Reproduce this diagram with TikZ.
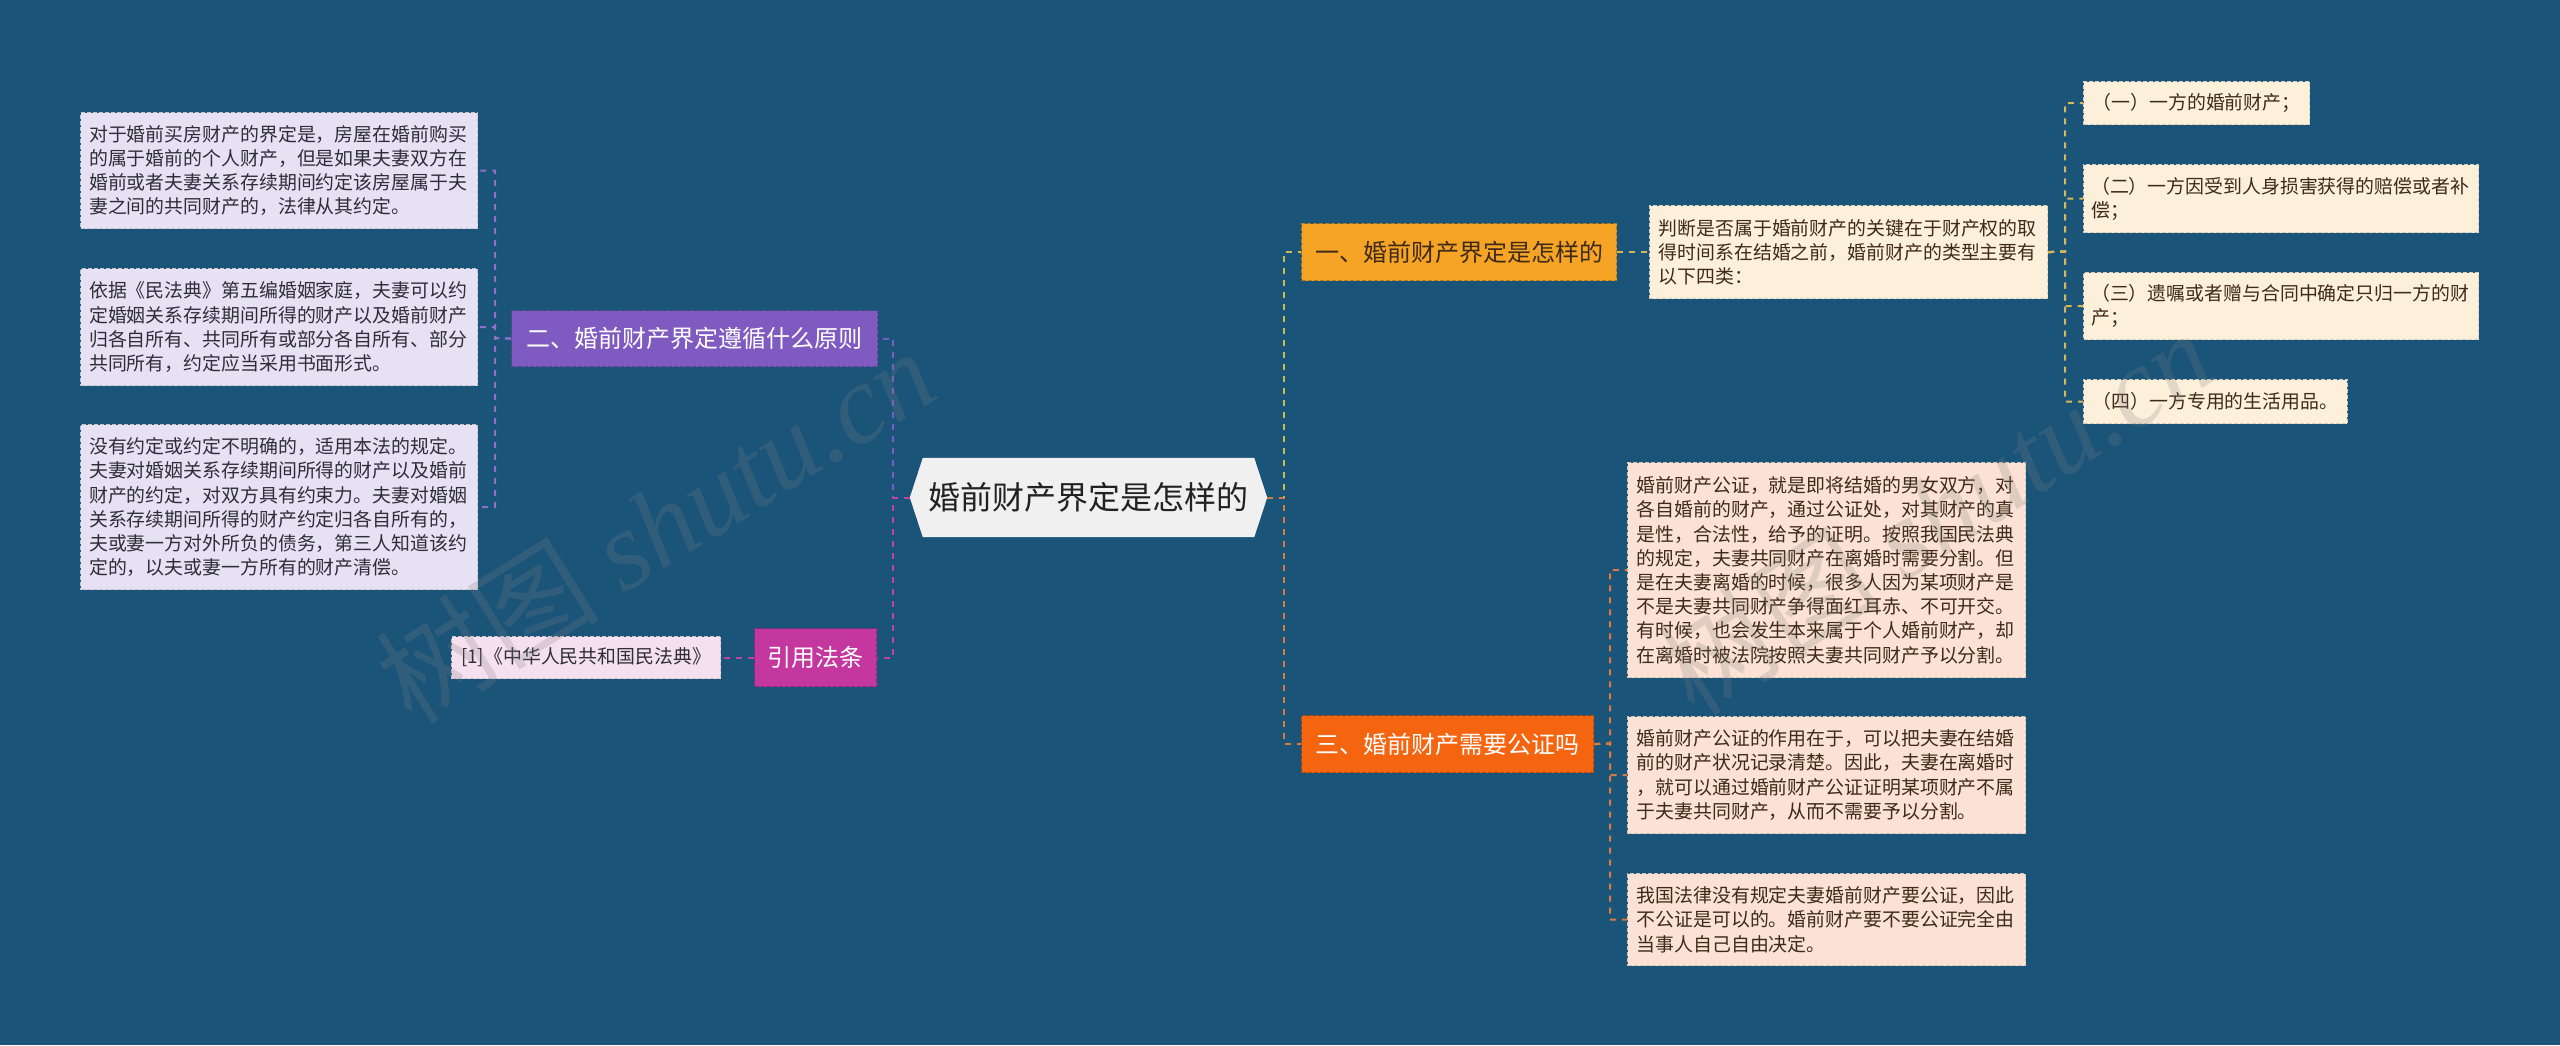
\documentclass[tikz,border=0pt]{standalone}
\usepackage{fontspec}
\setmainfont{Noto Sans CJK SC}
\newfontfamily\wmlatin{Liberation Serif}
\usetikzlibrary{calc}
\pgfdeclarelayer{back}
\pgfsetlayers{back,main}

\definecolor{bgc}{HTML}{1A5479}
\definecolor{rootfill}{HTML}{F0F0F0}
\definecolor{roottext}{HTML}{222222}
\definecolor{purpfill}{HTML}{7F5AC0}
\definecolor{lavfill}{HTML}{E6E1F3}
\definecolor{magfill}{HTML}{C4379F}
\definecolor{pinkfill}{HTML}{F5E0EF}
\definecolor{yelfill}{HTML}{F5A425}
\definecolor{creamfill}{HTML}{FCF0DB}
\definecolor{orfill}{HTML}{F5640F}
\definecolor{peachfill}{HTML}{FBE2D4}
\definecolor{purpconn}{HTML}{7D5BC6}
\definecolor{purpconn2}{HTML}{8E70CB}
\definecolor{magconn}{HTML}{C23FA4}
\definecolor{yelconn}{HTML}{C9BC4F}
\definecolor{yelconn2}{HTML}{D8B65A}
\definecolor{orconn}{HTML}{D47A45}
\definecolor{orconn2}{HTML}{DD7A40}
\definecolor{darktext}{HTML}{2E2E38}
\definecolor{browntext}{HTML}{3E2A18}

\tikzset{
  conn/.style={line width=2pt, dash pattern=on 6pt off 6pt},
  boxbase/.style={draw, line width=1.2pt, dash pattern=on 4pt off 2pt, anchor=north west, inner ysep=0pt, align=left},
  leaftext/.style={font=\fontsize{18.9}{24.2}\selectfont},
  lavleaf/.style={boxbase, leaftext, fill=lavfill, draw=lavfill!70!gray, text=darktext},
  pinkleaf/.style={boxbase, leaftext, fill=pinkfill, draw=pinkfill!70!gray, text=darktext},
  creamleaf/.style={boxbase, leaftext, fill=creamfill, draw=creamfill!70!gray, text=browntext},
  peachleaf/.style={boxbase, leaftext, fill=peachfill, draw=peachfill!70!gray, text=browntext},
  branchbox/.style={draw, line width=1.2pt, dash pattern=on 4pt off 2pt, anchor=north west, inner sep=0pt, font=\fontsize{24}{28}\selectfont, align=center},
  wmark/.style={text=gray, opacity=0.22, font=\fontsize{112}{112}\selectfont, inner sep=0pt}
}

\begin{document}
\begin{tikzpicture}[x=1pt,y=-1pt]
\begin{pgfonlayer}{back}
\fill[bgc] (0,0) rectangle (2560,1045);
\end{pgfonlayer}
\useasboundingbox (0,0) rectangle (2560,1045);

% root
\node[minimum width=357pt, minimum height=79pt, inner sep=0pt, text=roottext, font=\fontsize{32}{36}\selectfont] (root) at (1088.5,497.5) {婚前财产界定是怎样的};
\begin{pgfonlayer}{back}
\fill[rootfill] (root.west) -- ($(root.north west)+(13,0)$) -- ($(root.north east)+(-13,0)$) -- (root.east) -- ($(root.south east)+(-13,0)$) -- ($(root.south west)+(13,0)$) -- cycle;
\end{pgfonlayer}

% branches
\node[branchbox, fill=yelfill, draw=yelfill!75!black, text=browntext, minimum width=315pt, minimum height=57pt] (b1) at (1301,223) {一、婚前财产界定是怎样的};
\node[branchbox, fill=purpfill, draw=purpfill!75!black, text=white, minimum width=366pt, minimum height=56pt] (b2) at (511,310) {二、婚前财产界定遵循什么原则};
\node[branchbox, fill=orfill, draw=orfill!75!black, text=white, minimum width=292pt, minimum height=57pt] (b3) at (1301,715) {三、婚前财产需要公证吗};
\node[branchbox, fill=magfill, draw=magfill!75!black, text=white, minimum width=122pt, minimum height=58pt] (b4) at (754,628) {引用法条};

% left leaves
\node[lavleaf, text width=380pt, inner xsep=8.5pt, minimum height=116pt] (lA) at (80,112) {对于婚前买房财产的界定是，房屋在婚前购买\\的属于婚前的个人财产，但是如果夫妻双方在\\婚前或者夫妻关系存续期间约定该房屋属于夫\\妻之间的共同财产的，法律从其约定。};
\node[lavleaf, text width=380pt, inner xsep=8.5pt, minimum height=117pt] (lB) at (80,268) {依据《民法典》第五编婚姻家庭，夫妻可以约\\定婚姻关系存续期间所得的财产以及婚前财产\\归各自所有、共同所有或部分各自所有、部分\\共同所有，约定应当采用书面形式。};
\node[lavleaf, text width=380pt, inner xsep=8.5pt, minimum height=165pt] (lC) at (80,424) {没有约定或约定不明确的，适用本法的规定。\\夫妻对婚姻关系存续期间所得的财产以及婚前\\财产的约定，对双方具有约束力。夫妻对婚姻\\关系存续期间所得的财产约定归各自所有的，\\夫或妻一方对外所负的债务，第三人知道该约\\定的，以夫或妻一方所有的财产清偿。};
\node[pinkleaf, inner xsep=8pt, minimum width=269pt, minimum height=42pt] (p1) at (451,636) {[1]《中华人民共和国民法典》};

% right leaves
\node[creamleaf, text width=380pt, inner xsep=9pt, minimum height=93pt] (c1) at (1649,205) {判断是否属于婚前财产的关键在于财产权的取\\得时间系在结婚之前，婚前财产的类型主要有\\以下四类：};
\node[creamleaf, inner xsep=9pt, minimum width=226pt, minimum height=43pt] (q1) at (2083,81) {（一）一方的婚前财产；};
\node[creamleaf, text width=380pt, inner xsep=7.5pt, minimum height=68pt] (q2) at (2083,164) {（二）一方因受到人身损害获得的赔偿或者补\\偿；};
\node[creamleaf, text width=380pt, inner xsep=7.5pt, minimum height=67pt] (q3) at (2083,272) {（三）遗嘱或者赠与合同中确定只归一方的财\\产；};
\node[creamleaf, inner xsep=9pt, minimum width=263pt, minimum height=44pt] (q4) at (2083,379) {（四）一方专用的生活用品。};

\node[peachleaf, text width=380pt, inner xsep=9pt, minimum height=215pt] (r1) at (1627,462) {婚前财产公证，就是即将结婚的男女双方，对\\各自婚前的财产，通过公证处，对其财产的真\\是性，合法性，给予的证明。按照我国民法典\\的规定，夫妻共同财产在离婚时需要分割。但\\是在夫妻离婚的时候，很多人因为某项财产是\\不是夫妻共同财产争得面红耳赤、不可开交。\\有时候，也会发生本来属于个人婚前财产，却\\在离婚时被法院按照夫妻共同财产予以分割。};
\node[peachleaf, text width=380pt, inner xsep=9pt, minimum height=117pt] (r2) at (1627,716) {婚前财产公证的作用在于，可以把夫妻在结婚\\前的财产状况记录清楚。因此，夫妻在离婚时\\，就可以通过婚前财产公证证明某项财产不属\\于夫妻共同财产，从而不需要予以分割。};
\node[peachleaf, text width=380pt, inner xsep=9pt, minimum height=92pt] (r3) at (1627,873) {我国法律没有规定夫妻婚前财产要公证，因此\\不公证是可以的。婚前财产要不要公证完全由\\当事人自己自由决定。};

% junction coordinates
\coordinate (jL) at (893,497.5);
\coordinate (jR) at (1284,497.5);
\coordinate (k2) at (495,338);
\coordinate (k1) at (2065,251.5);
\coordinate (k3) at (1610,743.5);

% connectors
\draw[conn, purpconn] (root.west) -- (jL) |- (b2.east);
\draw[conn, magconn] (root.west) -- (jL) |- (b4.east);
\draw[conn, yelconn] (root.east) -- (jR) |- (b1.west);
\draw[conn, orconn] (root.east) -- (jR) |- (b3.west);

\draw[conn, purpconn2] (b2.west) -- (k2) |- (lA.east);
\draw[conn, purpconn2] (b2.west) -- (k2) |- (lB.east);
\draw[conn, purpconn2] (b2.west) -- (k2) |- (lC.east);
\draw[conn, magconn] (b4.west) -- (p1.east);

\draw[conn, yelconn2] (b1.east) -- (c1.west);
\draw[conn, yelconn2] (c1.east) -- (k1) |- (q1.west);
\draw[conn, yelconn2] (c1.east) -- (k1) |- (q2.west);
\draw[conn, yelconn2] (c1.east) -- (k1) |- (q3.west);
\draw[conn, yelconn2] (c1.east) -- (k1) |- (q4.west);

\draw[conn, orconn2] (b3.east) -- (k3) |- (r1.west);
\draw[conn, orconn2] (b3.east) -- (k3) |- (r2.west);
\draw[conn, orconn2] (b3.east) -- (k3) |- (r3.west);

% watermarks
\node[wmark, rotate=32] (wm1) at (655,525) {树图 {\wmlatin\itshape shutu.cn}};
\node[wmark, rotate=33] (wm2) at (1935,512) {树图 {\wmlatin\itshape shutu.cn}};
\end{tikzpicture}
\end{document}
